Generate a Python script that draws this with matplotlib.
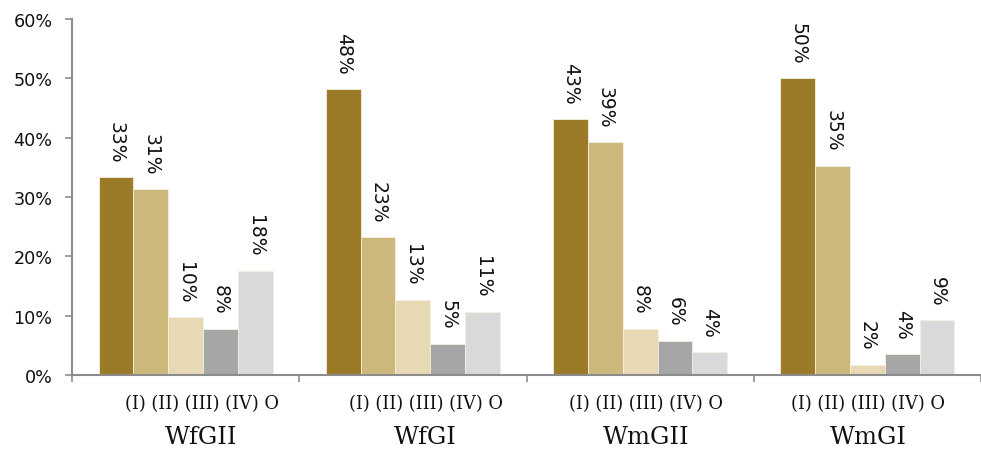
import matplotlib
matplotlib.use("Agg")
import matplotlib.pyplot as plt
import numpy as np

# Share of each class within each group
groups = ["WfGII", "WfGI", "WmGII", "WmGI"]
classes = ["(I)", "(II)", "(III)", "(IV)", "O"]
class_I = [33.3, 48.2, 43.1, 50.0]
class_II = [31.3, 23.2, 39.2, 35.2]
class_III = [9.7, 12.6, 7.8, 1.7]
class_IV = [7.8, 5.2, 5.8, 3.6]
class_O = [17.6, 10.6, 3.8, 9.2]

series = [class_I, class_II, class_III, class_IV, class_O]
colors = ["#9B7A28", "#CCB87B", "#E6D9B3", "#A6A6A6", "#D9D9D9"]

# small horizontal nudges for the category captions
caption_shift = [0.07, 0.056, 0.027, 0.003]

fig = plt.figure(figsize=(9.81, 4.52), dpi=100)
ax = fig.add_axes([72 / 981, 1 - 376 / 452, 909 / 981, 356 / 452])

n = len(series)
width = 0.153
x = np.arange(len(groups))
for i, (vals, col) in enumerate(zip(series, colors)):
    pos = x + (i - (n - 1) / 2) * width
    bars = ax.bar(pos, vals, width=width, color=col, edgecolor="#f4efe2",
                  linewidth=0.6, zorder=2)
    for b, v in zip(bars, vals):
        ax.annotate(f"{round(v):d}%", (b.get_x() + b.get_width() / 2, v),
                    xytext=(0, 11), textcoords="offset points",
                    rotation=-90, ha="center", va="bottom",
                    fontsize=13.5, family="DejaVu Sans", color="#111111")

ax.set_ylim(0, 60)
ax.set_xlim(-0.5, -0.5 + 909 / 229.5)
ax.set_yticks(np.arange(0, 61, 10))
ax.set_yticklabels([f"{t}%" for t in range(0, 61, 10)])
ax.tick_params(axis="y", length=5, width=1.2, color="#8c8c8c", pad=9,
               labelsize=12.7, labelcolor="#111111")

ax.set_xticks(np.arange(len(groups) + 1) - 0.5)
ax.set_xticklabels([])
ax.tick_params(axis="x", length=5, width=1.2, color="#8c8c8c", direction="out")

for s in ["top", "right"]:
    ax.spines[s].set_visible(False)
for s in ["left", "bottom"]:
    ax.spines[s].set_color("#8c8c8c")
    ax.spines[s].set_linewidth(1.5)

sub = " ".join(classes)
for gx, name, dx in zip(x, groups, caption_shift):
    ax.annotate(sub, (gx + dx, 0), xycoords=("data", "axes fraction"),
                xytext=(0, -20.5), textcoords="offset points",
                ha="center", va="center", fontsize=12.8, family="DejaVu Serif",
                color="#111111")
    ax.annotate(name, (gx + dx, 0), xycoords=("data", "axes fraction"),
                xytext=(0, -44.5), textcoords="offset points",
                ha="center", va="center", fontsize=17.5, family="DejaVu Serif",
                color="#111111")

fig.savefig("out.png", dpi=100)
